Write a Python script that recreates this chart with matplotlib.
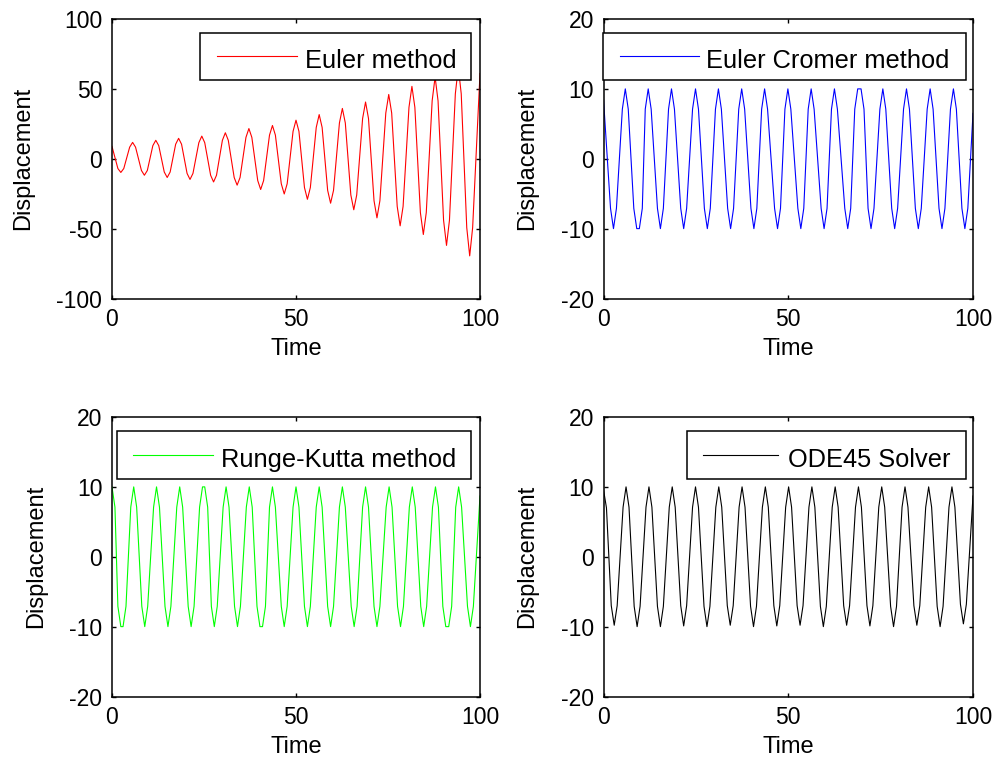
import matplotlib
matplotlib.use("Agg")
import matplotlib.pyplot as plt
from matplotlib.patches import Rectangle
from matplotlib.lines import Line2D

# ---------------- data (time, displacement) ----------------
euler_pts = [
    (0.0, 8.8), (1.6, -7.0), (2.4, -9.8), (3.2, -7.0), (4.8, 8.3), (5.6, 11.7),
    (6.4, 8.3), (8.0, -8.4), (8.8, -11.8), (9.6, -8.4), (11.1, 9.4), (11.9, 13.2),
    (12.7, 9.4), (14.2, -9.5), (15.0, -13.4), (15.8, -9.5), (17.3, 10.4), (18.1, 14.6),
    (18.9, 10.4), (20.4, -10.5), (21.2, -14.8), (22.0, -10.5), (23.6, 11.5), (24.4, 16.2),
    (25.2, 11.5), (26.8, -11.8), (27.6, -16.6), (28.4, -11.8), (30.0, 13.2), (30.8, 18.6),
    (31.6, 13.2), (33.2, -13.4), (34.0, -18.9), (34.8, -13.4), (36.4, 15.3), (37.2, 21.6),
    (38.0, 15.3), (39.6, -15.6), (40.4, -22.0), (41.2, -15.6), (42.8, 16.9), (43.6, 23.8),
    (44.4, 16.9), (46.0, -17.9), (46.8, -25.2), (47.6, -17.9), (49.2, 19.6), (50.0, 27.6),
    (50.8, 19.6), (52.3, -20.6), (53.1, -29.0), (53.9, -20.6), (55.5, 22.4), (56.3, 31.6),
    (57.1, 22.4), (58.6, -22.6), (59.4, -31.8), (60.2, -22.6), (61.8, 25.6), (62.6, 36.0),
    (63.4, 25.6), (64.9, -25.9), (65.7, -36.5), (66.5, -25.9), (68.1, 28.8), (68.9, 40.6),
    (69.7, 28.8), (71.2, -30.0), (72.0, -42.3), (72.8, -30.0), (74.4, 32.7), (75.2, 46.0),
    (76.0, 32.7), (77.5, -34.1), (78.3, -48.0), (79.1, -34.1), (80.7, 36.8), (81.5, 51.8),
    (82.3, 36.8), (83.8, -38.5), (84.6, -54.2), (85.4, -38.5), (87.0, 41.5), (87.8, 58.5),
    (88.6, 41.5), (90.1, -44.0), (90.9, -62.0), (91.7, -44.0), (93.3, 46.5), (94.1, 65.5),
    (94.9, 46.5), (96.4, -49.3), (97.2, -69.5), (98.0, -49.3), (100.0, 61.0),
]

cromer_pts = [
    (0.0, 8.5), (1.9, -7.1), (2.7, -10.0), (3.5, -7.1), (5.1, 7.1), (5.9, 10.0),
    (6.7, 7.1), (8.2, -7.1), (9.0, -10.0), (9.7, -10.0), (10.5, -7.1), (11.3, 7.1),
    (12.1, 10.0), (12.9, 7.1), (14.6, -7.1), (15.4, -10.0), (16.2, -7.1), (17.6, 7.1),
    (18.4, 10.0), (19.2, 7.1), (20.9, -7.1), (21.7, -10.0), (22.5, -7.1), (24.1, 7.1),
    (24.9, 10.0), (25.7, 7.1), (27.3, -7.1), (28.1, -10.0), (28.9, -7.1), (30.3, 7.1),
    (31.1, 10.0), (31.9, 7.1), (33.6, -7.1), (34.4, -10.0), (35.2, -7.1), (36.6, 7.1),
    (37.4, 10.0), (38.2, 7.1), (39.9, -7.1), (40.7, -10.0), (41.5, -7.1), (42.8, 7.1),
    (43.6, 10.0), (44.4, 7.1), (46.3, -7.1), (47.1, -10.0), (47.9, -7.1), (49.1, 7.1),
    (49.9, 10.0), (50.7, 7.1), (52.6, -7.1), (53.4, -10.0), (54.2, -7.1), (55.4, 7.1),
    (56.2, 10.0), (57.0, 7.1), (58.9, -7.1), (59.7, -10.0), (60.5, -7.1), (61.7, 7.1),
    (62.5, 10.0), (63.3, 7.1), (65.3, -7.1), (66.1, -10.0), (66.9, -7.1), (68.0, 7.1),
    (68.8, 10.0), (69.7, 10.0), (70.5, 7.1), (71.6, -7.1), (72.4, -10.0), (73.2, -7.1),
    (74.8, 7.1), (75.6, 10.0), (76.4, 7.1), (78.0, -7.1), (78.8, -10.0), (79.6, -7.1),
    (81.2, 7.1), (82.0, 10.0), (82.8, 7.1), (84.4, -7.1), (85.2, -10.0), (86.0, -7.1),
    (87.6, 7.1), (88.4, 10.0), (89.2, 7.1), (90.8, -7.1), (91.6, -10.0), (92.4, -7.1),
    (93.9, 7.1), (94.7, 10.0), (95.5, 7.1), (97.0, -7.1), (97.8, -10.0), (98.6, -7.1),
    (100.0, 6.5),
]

rk_pts = [
    (0.0, 10.0), (0.8, 7.1), (1.6, -7.1), (2.4, -10.0), (3.0, -10.0), (3.8, -7.1),
    (5.1, 7.1), (5.9, 10.0), (6.7, 7.1), (8.1, -7.1), (8.9, -10.0), (9.7, -7.1),
    (11.3, 7.1), (12.1, 10.0), (12.9, 7.1), (14.4, -7.1), (15.2, -10.0), (16.0, -7.1),
    (17.6, 7.1), (18.4, 10.0), (19.2, 7.1), (20.7, -7.1), (21.5, -10.0), (22.3, -7.1),
    (23.8, 7.1), (24.6, 10.0), (25.2, 10.0), (26.0, 7.1), (27.0, -7.1), (27.8, -10.0),
    (28.6, -7.1), (30.2, 7.1), (31.0, 10.0), (31.8, 7.1), (33.3, -7.1), (34.1, -10.0),
    (34.9, -7.1), (36.5, 7.1), (37.3, 10.0), (38.1, 7.1), (39.4, -7.1), (40.2, -10.0),
    (40.9, -10.0), (41.7, -7.1), (42.8, 7.1), (43.6, 10.0), (44.4, 7.1), (46.0, -7.1),
    (46.8, -10.0), (47.6, -7.1), (49.2, 7.1), (50.0, 10.0), (50.8, 7.1), (52.3, -7.1),
    (53.1, -10.0), (53.9, -7.1), (55.5, 7.1), (56.3, 10.0), (57.1, 7.1), (58.6, -7.1),
    (59.4, -10.0), (60.2, -7.1), (61.8, 7.1), (62.6, 10.0), (63.4, 7.1), (65.0, -7.1),
    (65.8, -10.0), (66.6, -7.1), (68.1, 7.1), (68.9, 10.0), (69.7, 7.1), (71.2, -7.1),
    (72.0, -10.0), (72.8, -7.1), (74.5, 7.1), (75.3, 10.0), (76.1, 7.1), (77.6, -7.1),
    (78.4, -10.0), (79.2, -7.1), (80.8, 7.1), (81.6, 10.0), (82.4, 7.1), (83.9, -7.1),
    (84.7, -10.0), (85.5, -7.1), (87.1, 7.1), (87.9, 10.0), (88.7, 7.1), (89.9, -7.1),
    (90.7, -10.0), (91.5, -10.0), (92.3, -7.1), (93.4, 7.1), (94.2, 10.0), (95.0, 7.1),
    (96.6, -7.1), (97.4, -10.0), (98.2, -7.1), (100.0, 8.7),
]

ode_pts = [
    (0.0, 9.6), (0.8, 7.0), (2.1, -7.0), (2.9, -9.8), (3.7, -7.0), (5.3, 7.1),
    (6.1, 10.0), (6.9, 7.1), (8.3, -7.1), (9.1, -10.0), (9.9, -7.1), (11.5, 7.1),
    (12.3, 10.0), (13.1, 7.1), (14.6, -7.1), (15.4, -10.0), (16.2, -7.1), (17.8, 7.1),
    (18.6, 10.0), (19.4, 7.1), (20.9, -7.0), (21.7, -9.9), (22.5, -7.0), (24.1, 7.1),
    (24.9, 10.0), (25.7, 7.1), (27.2, -7.1), (28.0, -10.0), (28.8, -7.1), (30.4, 7.1),
    (31.2, 10.0), (32.0, 7.1), (33.5, -7.0), (34.3, -9.8), (35.1, -7.0), (36.7, 7.1),
    (37.5, 10.0), (38.3, 7.1), (39.8, -7.1), (40.6, -10.0), (41.4, -7.1), (43.0, 7.1),
    (43.8, 10.0), (44.6, 7.1), (46.1, -7.0), (46.9, -9.9), (47.7, -7.0), (49.3, 7.1),
    (50.1, 10.0), (50.9, 7.1), (52.4, -7.0), (53.2, -9.8), (54.0, -7.0), (55.6, 7.1),
    (56.4, 10.0), (57.2, 7.1), (58.7, -7.1), (59.5, -10.0), (60.3, -7.1), (61.9, 7.1),
    (62.7, 10.0), (63.5, 7.1), (65.0, -7.0), (65.8, -9.8), (66.6, -7.0), (68.2, 7.1),
    (69.0, 10.0), (69.8, 7.1), (71.3, -7.0), (72.1, -9.9), (72.9, -7.0), (74.5, 7.1),
    (75.3, 10.0), (76.1, 7.1), (77.7, -7.1), (78.5, -10.0), (79.3, -7.1), (80.8, 7.1),
    (81.6, 10.0), (82.4, 7.1), (84.0, -7.0), (84.8, -9.8), (85.6, -7.0), (87.2, 7.1),
    (88.0, 10.0), (88.8, 7.1), (90.3, -7.1), (91.1, -10.0), (91.9, -7.1), (93.5, 7.1),
    (94.3, 10.0), (95.1, 7.1), (96.6, -6.8), (97.4, -9.6), (98.2, -6.8), (100.0, 8.7),
]

labels = ["Euler method", "Euler Cromer method", "Runge-Kutta method", "ODE45 Solver"]
colors = ["#FF0000", "#0000FF", "#00FF00", "#000000"]
y_limits = [(-100, 100), (-20, 20), (-20, 20), (-20, 20)]
y_ticks = [[-100, -50, 0, 50, 100], [-20, -10, 0, 10, 20],
           [-20, -10, 0, 10, 20], [-20, -10, 0, 10, 20]]
x_ticks = [0, 50, 100]
x_label = "Time"
y_label = "Displacement"

series = [euler_pts, cromer_pts, rk_pts, ode_pts]

# ---------------- figure ----------------
plt.rcParams["font.family"] = ["Liberation Sans", "DejaVu Sans"]
plt.rcParams["axes.unicode_minus"] = False
W, H = 1002, 772
fig = plt.figure(figsize=(W / 100, H / 100), dpi=100)

# axes boxes in pixels: left, top, right, bottom
boxes = [(112, 19, 480, 298.5), (603.5, 19, 973, 298.5),
         (112, 417, 480, 696.5), (603.5, 417, 973, 696.5)]
# legend boxes in pixels: x0, y0, x1, y1, line x0, line x1, text x, baseline
leg = [(200, 32.5, 471, 80, 216.5, 296.5, 305, 68.3),
       (603, 32.5, 966, 80, 620, 699, 706, 68.3),
       (116.5, 431, 470.5, 479, 133, 213, 221, 466.5),
       (686.5, 431, 966, 479, 703, 778, 788, 466.5)]


def fx(px):
    return px / W


def fy(py):
    return 1 - py / H


for i in range(4):
    l, t, r, b = boxes[i]
    ax = fig.add_axes([fx(l), fy(b), (r - l) / W, (b - t) / H])
    tt = [p[0] for p in series[i]]
    xx = [p[1] for p in series[i]]
    ax.plot(tt, xx, color=colors[i], lw=0.8)
    ax.set_xlim(0, 100)
    ax.set_ylim(*y_limits[i])
    ax.set_xticks(x_ticks)
    ax.set_yticks(y_ticks[i])
    ax.tick_params(direction="in", length=3, width=1.0, top=True, right=True,
                   labelsize=16.5, pad=7, colors="black")
    for s in ax.spines.values():
        s.set_linewidth(1.1)
    ax.set_xlabel(x_label, fontsize=17, labelpad=5)
    ax.set_ylabel(y_label, fontsize=17, labelpad=16)

    x0, y0, x1, y1, lx0, lx1, tx, base = leg[i]
    fig.add_artist(Rectangle((fx(x0), fy(y1)), (x1 - x0) / W, (y1 - y0) / H,
                             transform=fig.transFigure, facecolor="white",
                             edgecolor="black", lw=1.1, zorder=5))
    ly = (y0 + y1) / 2
    fig.add_artist(Line2D([fx(lx0), fx(lx1)], [fy(ly), fy(ly)],
                          transform=fig.transFigure, color=colors[i], lw=0.8,
                          zorder=6))
    fig.text(fx(tx), fy(base), labels[i], fontsize=18.3, ha="left",
             va="baseline", zorder=7)

fig.savefig("out.png", dpi=100, facecolor="white")
